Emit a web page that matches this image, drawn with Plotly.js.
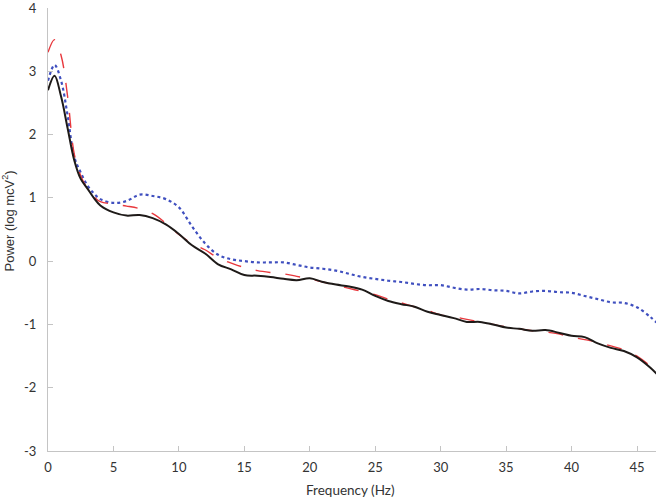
<!DOCTYPE html>
<html>
<head>
<meta charset="utf-8">
<script src="https://cdn.plot.ly/plotly-3.0.1.min.js"></script>
<style>html,body{margin:0;padding:0;background:#fff;}#chart{width:656px;height:501px;}</style>
</head>
<body>
<div id="chart"></div>
<script>
const freq = [0,0.5,1,1.5,2,2.5,3,3.5,4,5,6,7,8,9,10,11,12,13,14,15,16,17,18,19,20,21,22,23,24,25,26,27,28,29,30,31,32,33,34,35,36,37,38,39,40,41,42,43,44,45,46,46.5];
const blackSeries = [2.7,2.93,2.6,2.1,1.6,1.3,1.15,1.0,0.88,0.77,0.72,0.73,0.68,0.58,0.43,0.25,0.12,-0.05,-0.13,-0.22,-0.23,-0.25,-0.28,-0.3,-0.27,-0.33,-0.37,-0.4,-0.45,-0.55,-0.63,-0.68,-0.72,-0.8,-0.85,-0.9,-0.96,-0.96,-1.0,-1.05,-1.07,-1.1,-1.09,-1.13,-1.18,-1.2,-1.3,-1.37,-1.42,-1.52,-1.68,-1.78];
const redSeries = [3.3,3.5,3.25,2.6,1.7,1.35,1.15,1.02,0.94,0.9,0.87,0.83,0.75,0.6,0.42,0.28,0.18,0.05,-0.03,-0.1,-0.15,-0.18,-0.2,-0.24,-0.28,-0.33,-0.38,-0.43,-0.48,-0.53,-0.6,-0.66,-0.72,-0.78,-0.85,-0.88,-0.92,-0.96,-1.0,-1.04,-1.07,-1.1,-1.12,-1.15,-1.2,-1.24,-1.28,-1.34,-1.4,-1.5,-1.66,-1.78];
const blueSeries = [2.85,3.1,2.85,2.3,1.65,1.4,1.2,1.07,0.98,0.92,0.95,1.05,1.03,0.98,0.85,0.55,0.28,0.1,0.03,0.0,-0.02,-0.02,-0.02,-0.06,-0.1,-0.12,-0.15,-0.2,-0.25,-0.28,-0.31,-0.33,-0.36,-0.38,-0.38,-0.42,-0.45,-0.44,-0.46,-0.47,-0.51,-0.48,-0.47,-0.49,-0.5,-0.55,-0.6,-0.65,-0.66,-0.73,-0.88,-0.97];
const xTicks = [0,5,10,15,20,25,30,35,40,45];
const yTicks = [-3,-2,-1,0,1,2,3,4];
const xTitle = 'Frequency (Hz)';
const yTitle = 'Power (log mcV<sup>2</sup>)';

const traces = [
  {x: freq, y: blueSeries, mode:'lines', line:{color:'#3f4fbf', width:2.2, dash:'dot', shape:'spline'}},
  {x: freq, y: redSeries, mode:'lines', line:{color:'#e8383d', width:1.4, dash:'longdash', shape:'spline'}},
  {x: freq, y: blackSeries, mode:'lines', line:{color:'#1e1a18', width:2, shape:'spline'}}
];
const tickFnt = {family:'Lato, "Open Sans", sans-serif', size:13, color:'#333'};
const layout = {
  width:656, height:501,
  margin:{l:48, r:0, t:8, b:50},
  paper_bgcolor:'#fff', plot_bgcolor:'#fff',
  showlegend:false,
  font: tickFnt,
  xaxis:{range:[0,46.45], tickvals:xTicks, ticktext:xTicks.map(String), showgrid:false, zeroline:false,
    showline:true, linecolor:'#c4c4c4', linewidth:1, ticks:'inside', ticklen:5, tickcolor:'#c4c4c4',
    tickfont:tickFnt, ticklabelstandoff:4, ticklabeloverflow:'allow'},
  yaxis:{range:[-3,4], tickvals:yTicks, ticktext:yTicks.map(String), showgrid:false, zeroline:false,
    showline:true, linecolor:'#c4c4c4', linewidth:1, ticks:'inside', ticklen:5, tickcolor:'#c4c4c4',
    tickfont:tickFnt, ticklabelstandoff:8, ticklabeloverflow:'allow'},
  annotations:[
    {xref:'paper', yref:'paper', x:0.497, y:-0.088, xanchor:'center', yanchor:'middle', showarrow:false,
      text:xTitle, font:{family:'Lato, "Open Sans", sans-serif', size:13.5, color:'#333'}},
    {xref:'paper', yref:'paper', x:-0.066, y:0.52, xanchor:'center', yanchor:'middle', showarrow:false, textangle:-90,
      text:yTitle, font:{family:'"Liberation Sans", Arial, sans-serif', size:13, color:'#333'}}
  ]
};
Plotly.newPlot('chart', traces, layout, {displayModeBar:false, staticPlot:true});
</script>
</body>
</html>
